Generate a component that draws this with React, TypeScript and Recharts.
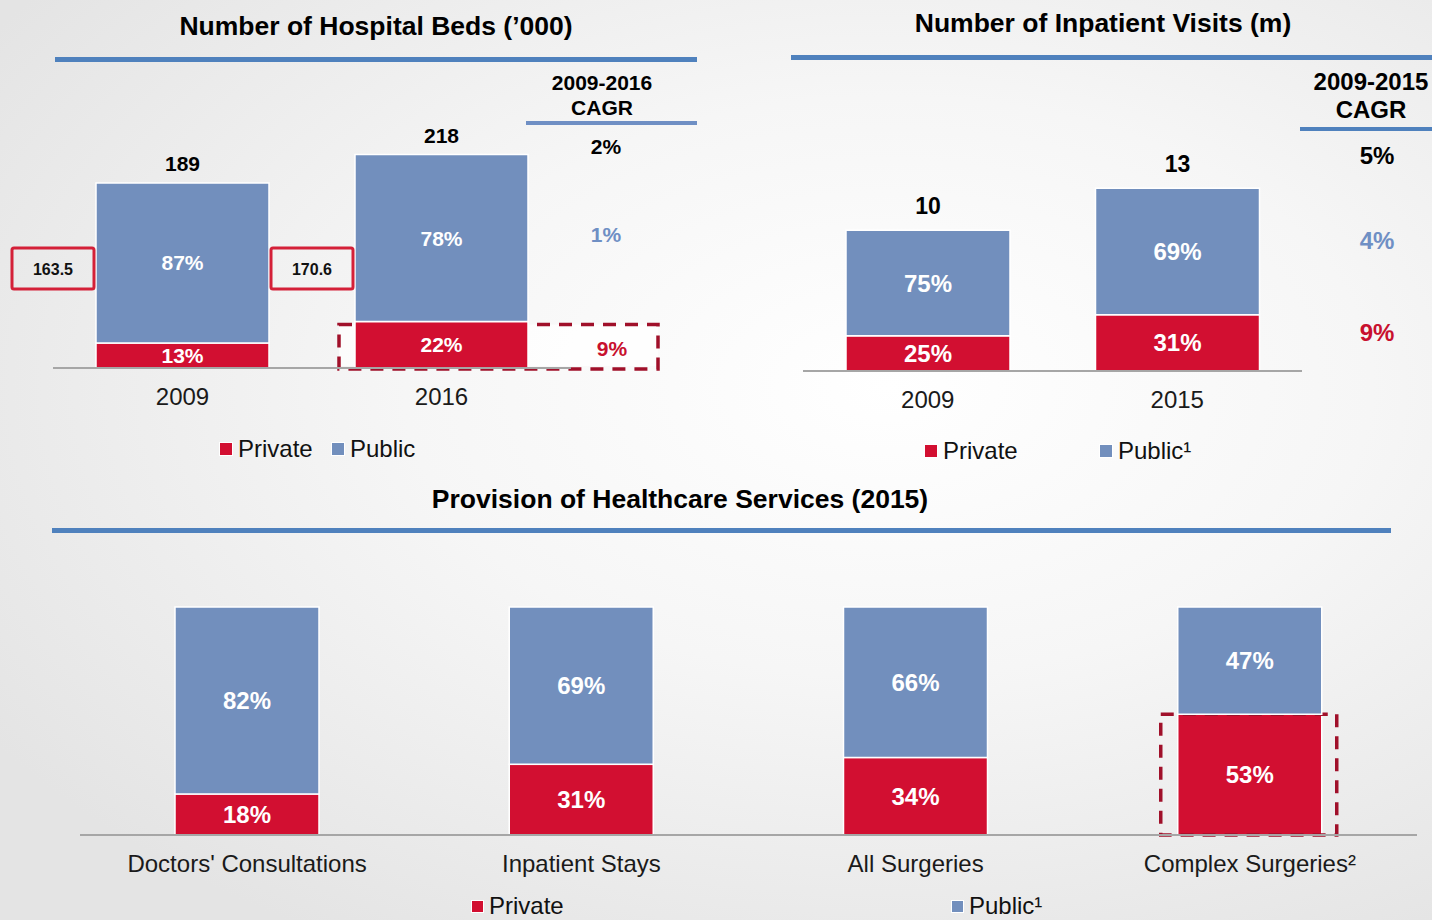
import React from "react";
import { BarChart, Bar, XAxis, YAxis, LabelList } from "recharts";

const RED = "#D20F31";
const BLUE = "#728FBD";
const TITLE_BLUE = "#4F81BD";
const CAGR_BLUE = "#6F8FC4";
const DASH_RED = "#A0102A";
const AXIS_GREY = "#A6A6A6";
const FONT = "'Liberation Sans', Arial, sans-serif";

// Number of hospital beds ('000)
const bedYears = ["2009", "2016"];
const bedPublic = [163.5, 170.6];
const bedPrivate = [25.5, 47.4];
const bedCagr = ["2%", "1%", "9%"];

// Number of inpatient visits (m)
const visitYears = ["2009", "2015"];
const visitPublic = [7.5, 9.0];
const visitPrivate = [2.5, 4.0];
const visitCagr = ["5%", "4%", "9%"];

// Provision of healthcare services (2015), % share
const serviceNames = [
  "Doctors' Consultations",
  "Inpatient Stays",
  "All Surgeries",
  "Complex Surgeries²",
];
const servicePrivate = [18, 31, 34, 53];
const servicePublic = [82, 69, 66, 47];

const pct = (v: number, t: number) => `${Math.round((v / t) * 100)}%`;

const buildRows = (names: string[], pub: number[], priv: number[]) =>
  names.map((name, i) => {
    const total = pub[i] + priv[i];
    return {
      name,
      public: pub[i],
      private: priv[i],
      total: Math.round(total),
      publicPct: pct(pub[i], total),
      privatePct: pct(priv[i], total),
    };
  });

const bedRows = buildRows(bedYears, bedPublic, bedPrivate);
const visitRows = buildRows(visitYears, visitPublic, visitPrivate);
const serviceRows = buildRows(serviceNames, servicePublic, servicePrivate);

interface BoxPad {
  left: number;
  right: number;
  top: number;
  bottom: number;
  behind: boolean;
}

// private segment, optionally wrapped in a dashed highlight box
const makePrivateShape = (hiIdx: number, pad?: BoxPad) => (props: any) => {
  const { x, y, width, height, index } = props;
  const hi = pad && index === hiIdx;
  const bx = hi ? x - pad!.left : 0;
  const by = hi ? y + pad!.top : 0;
  const bw = hi ? width + pad!.left + pad!.right : 0;
  const bh = hi ? height - pad!.top + pad!.bottom : 0;
  const box = hi ? (
    <rect x={bx} y={by} width={bw} height={bh} fill="none" stroke={DASH_RED} strokeWidth={3.5} strokeDasharray="13 9" />
  ) : null;
  return (
    <g>
      {hi && pad!.behind && (
        <rect x={bx} y={by} width={bw} height={y + height - by - 2} fill="rgba(255,255,255,0.75)" />
      )}
      {hi && pad!.behind && box}
      <rect x={x} y={y} width={width} height={height} fill={RED} stroke="#fff" strokeWidth={1.5} />
      {hi && !pad!.behind && box}
    </g>
  );
};

// boxed public value to the left of each beds bar
const ValueBox = (props: any) => {
  const vb = props.viewBox ?? props;
  const { x, y, height } = vb;
  const base = y + height;
  return (
    <g>
      <rect x={x - 84} y={base - 120} width={82} height={41} fill="none" stroke="#D42038" strokeWidth={3} rx={2} />
      <text
        x={x - 43}
        y={base - 99}
        textAnchor="middle"
        dominantBaseline="central"
        fontWeight="bold"
        fontSize={16}
        fill="#111"
      >
        {props.value}
      </text>
    </g>
  );
};

interface PanelProps {
  rows: any[];
  width: number;
  height: number;
  margin: { top: number; right: number; bottom: number; left: number };
  max: number;
  barSize: number;
  pctSize: number;
  totalSize?: number;
  totalOffset?: number;
  hiIdx?: number;
  pad?: BoxPad;
  valueBoxes?: boolean;
}

const StackedPanel = ({
  rows,
  width,
  height,
  margin,
  max,
  barSize,
  pctSize,
  totalSize,
  totalOffset,
  hiIdx = -1,
  pad,
  valueBoxes,
}: PanelProps) => (
  <BarChart width={width} height={height} data={rows} margin={margin} barCategoryGap={0}>
    <XAxis
      dataKey="name"
      height={40}
      axisLine={{ stroke: AXIS_GREY, strokeWidth: 2 }}
      tickLine={false}
      tickSize={0}
      tickMargin={20}
      interval={0}
      tick={{ fill: "#1a1a1a", fontSize: 24, fontFamily: FONT }}
    />
    <YAxis hide domain={[0, max]} />
    <Bar
      dataKey="private"
      stackId="a"
      barSize={barSize}
      fill={RED}
      shape={makePrivateShape(hiIdx, pad)}
      isAnimationActive={false}
    >
      <LabelList dataKey="privatePct" position="center" fill="#fff" fontSize={pctSize} fontWeight="bold" />
      {valueBoxes && <LabelList dataKey="public" content={ValueBox} />}
    </Bar>
    <Bar
      dataKey="public"
      stackId="a"
      barSize={barSize}
      fill={BLUE}
      stroke="#fff"
      strokeWidth={1.5}
      isAnimationActive={false}
    >
      <LabelList dataKey="publicPct" position="center" fill="#fff" fontSize={pctSize} fontWeight="bold" />
      {totalSize && (
        <LabelList
          dataKey="total"
          position="top"
          offset={totalOffset}
          fill="#000"
          fontSize={totalSize}
          fontWeight="bold"
        />
      )}
    </Bar>
  </BarChart>
);

const Txt = ({
  x,
  y,
  size,
  color = "#000",
  bold = true,
  children,
}: {
  x: number;
  y: number;
  size: number;
  color?: string;
  bold?: boolean;
  children: React.ReactNode;
}) => (
  <div
    style={{
      position: "absolute",
      left: x,
      top: y,
      transform: "translate(-50%, -50%)",
      fontSize: size,
      fontWeight: bold ? "bold" : "normal",
      color,
      whiteSpace: "nowrap",
      lineHeight: 1,
      textAlign: "center",
    }}
  >
    {children}
  </div>
);

const Rule = ({ x1, x2, y, h, color }: { x1: number; x2: number; y: number; h: number; color: string }) => (
  <div style={{ position: "absolute", left: x1, top: y, width: x2 - x1, height: h, background: color }} />
);

const LegendItem = ({ x, y, color, label, sq = 12 }: { x: number; y: number; color: string; label: string; sq?: number }) => (
  <div style={{ position: "absolute", left: x, top: y, display: "flex", alignItems: "center", fontSize: 24, color: "#111", lineHeight: 1 }}>
    <span style={{ width: sq, height: sq, background: color, marginRight: 5, border: "1px solid #fff" }} />
    <span>{label}</span>
  </div>
);

const Abs = ({ left, top, children }: { left: number; top: number; children: React.ReactNode }) => (
  <div style={{ position: "absolute", left, top }}>{children}</div>
);

export default function App() {
  return (
    <div
      style={{
        position: "absolute",
        left: 0,
        top: 0,
        width: 1432,
        height: 920,
        overflow: "hidden",
        fontFamily: FONT,
        background:
          "radial-gradient(ellipse 75% 70% at 62% 42%, #ffffff 0%, #f6f6f6 45%, #e4e4e4 100%)",
      }}
    >
      {/* Hospital beds */}
      <Txt x={376} y={26} size={26.5}>Number of Hospital Beds (’000)</Txt>
      <Rule x1={55} x2={697} y={57} h={5} color={TITLE_BLUE} />
      <Abs left={0} top={0}>
        <StackedPanel
          rows={bedRows}
          width={700}
          height={420}
          margin={{ top: 133, right: 129, bottom: 12, left: 53 }}
          max={240}
          barSize={173}
          pctSize={21}
          totalSize={21}
          totalOffset={12}
          hiIdx={1}
          pad={{ left: 16, right: 130, top: 3, bottom: 1, behind: true }}
          valueBoxes
        />
      </Abs>
      <Txt x={602} y={82} size={21}>2009-2016</Txt>
      <Txt x={602} y={107} size={21}>CAGR</Txt>
      <Rule x1={526} x2={697} y={121} h={4} color={CAGR_BLUE} />
      <Txt x={606} y={146} size={21}>{bedCagr[0]}</Txt>
      <Txt x={606} y={234} size={21} color={CAGR_BLUE}>{bedCagr[1]}</Txt>
      <Txt x={612} y={348} size={21} color="#C8102E">{bedCagr[2]}</Txt>
      <LegendItem x={219} y={437} color={RED} label="Private" />
      <LegendItem x={331} y={437} color={BLUE} label="Public" />

      {/* Inpatient visits */}
      <Txt x={1103} y={23} size={26.5}>Number of Inpatient Visits (m)</Txt>
      <Rule x1={791} x2={1432} y={55} h={5} color={TITLE_BLUE} />
      <Abs left={720} top={0}>
        <StackedPanel
          rows={visitRows}
          width={712}
          height={420}
          margin={{ top: 160, right: 130, bottom: 9, left: 83 }}
          max={15}
          barSize={164}
          pctSize={24}
          totalSize={23}
          totalOffset={16}
        />
      </Abs>
      <Txt x={1371} y={82} size={24}>2009-2015</Txt>
      <Txt x={1371} y={110} size={24}>CAGR</Txt>
      <Rule x1={1300} x2={1432} y={127} h={4} color={TITLE_BLUE} />
      <Txt x={1377} y={156} size={24}>{visitCagr[0]}</Txt>
      <Txt x={1377} y={241} size={24} color={CAGR_BLUE}>{visitCagr[1]}</Txt>
      <Txt x={1377} y={333} size={24} color="#C8102E">{visitCagr[2]}</Txt>
      <LegendItem x={924} y={439} color={RED} label="Private" />
      <LegendItem x={1099} y={439} color={BLUE} label="Public¹" />

      {/* Healthcare services */}
      <Txt x={680} y={499} size={26.5}>Provision of Healthcare Services (2015)</Txt>
      <Rule x1={52} x2={1391} y={528} h={5} color={TITLE_BLUE} />
      <Abs left={0} top={480}>
        <StackedPanel
          rows={serviceRows}
          width={1432}
          height={420}
          margin={{ top: 127, right: 15, bottom: 25, left: 80 }}
          max={100}
          barSize={144}
          pctSize={24}
          hiIdx={3}
          pad={{ left: 17, right: 15, top: 0, bottom: 0, behind: false }}
        />
      </Abs>
      <LegendItem x={471} y={894} color={RED} label="Private" sq={11} />
      <LegendItem x={951} y={894} color={BLUE} label="Public¹" sq={11} />
    </div>
  );
}
